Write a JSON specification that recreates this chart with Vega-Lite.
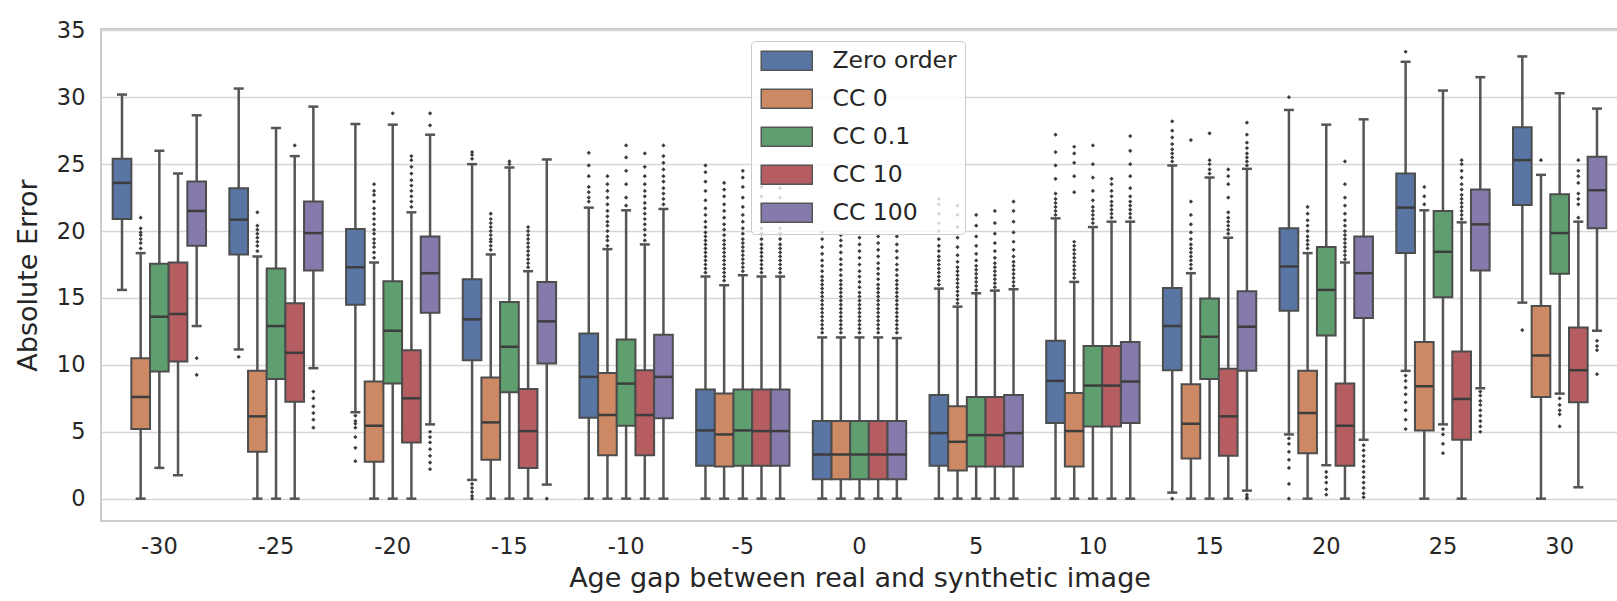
{
  "$schema": "https://vega.github.io/schema/vega-lite/v6.json",
  "autosize": {"type": "none"},
  "padding": {"left": 101, "top": 29, "right": 0, "bottom": 80},
  "width": 1517,
  "height": 492,
  "background": "#ffffff",
  "datasets": {
    "boxes": [
      {"gap": "-30", "method": "Zero order", "lo": 15.6, "q1": 20.9, "med": 23.6, "q3": 25.4, "hi": 30.2},
      {"gap": "-30", "method": "CC 0", "lo": 0, "q1": 5.2, "med": 7.6, "q3": 10.5, "hi": 18.35},
      {"gap": "-30", "method": "CC 0.1", "lo": 2.3, "q1": 9.5, "med": 13.6, "q3": 17.55, "hi": 26.0},
      {"gap": "-30", "method": "CC 10", "lo": 1.75, "q1": 10.25, "med": 13.8, "q3": 17.65, "hi": 24.3},
      {"gap": "-30", "method": "CC 100", "lo": 12.9, "q1": 18.9, "med": 21.5, "q3": 23.7, "hi": 28.65},
      {"gap": "-25", "method": "Zero order", "lo": 11.15, "q1": 18.25, "med": 20.85, "q3": 23.2, "hi": 30.65},
      {"gap": "-25", "method": "CC 0", "lo": 0, "q1": 3.5, "med": 6.15, "q3": 9.55, "hi": 18.1},
      {"gap": "-25", "method": "CC 0.1", "lo": 0, "q1": 8.95, "med": 12.9, "q3": 17.2, "hi": 27.7},
      {"gap": "-25", "method": "CC 10", "lo": 0, "q1": 7.25, "med": 10.9, "q3": 14.6, "hi": 25.6},
      {"gap": "-25", "method": "CC 100", "lo": 9.75, "q1": 17.05, "med": 19.85, "q3": 22.2, "hi": 29.3},
      {"gap": "-20", "method": "Zero order", "lo": 6.45, "q1": 14.5, "med": 17.3, "q3": 20.15, "hi": 28.0},
      {"gap": "-20", "method": "CC 0", "lo": 0, "q1": 2.75, "med": 5.45, "q3": 8.75, "hi": 17.65},
      {"gap": "-20", "method": "CC 0.1", "lo": 0, "q1": 8.6, "med": 12.55, "q3": 16.25, "hi": 27.95},
      {"gap": "-20", "method": "CC 10", "lo": 0, "q1": 4.2, "med": 7.5, "q3": 11.1, "hi": 21.4},
      {"gap": "-20", "method": "CC 100", "lo": 5.55, "q1": 13.9, "med": 16.85, "q3": 19.6, "hi": 27.2},
      {"gap": "-15", "method": "Zero order", "lo": 1.4, "q1": 10.35, "med": 13.4, "q3": 16.4, "hi": 25.0},
      {"gap": "-15", "method": "CC 0", "lo": 0, "q1": 2.9, "med": 5.7, "q3": 9.05, "hi": 18.25},
      {"gap": "-15", "method": "CC 0.1", "lo": 0, "q1": 7.95, "med": 11.35, "q3": 14.7, "hi": 24.75},
      {"gap": "-15", "method": "CC 10", "lo": 0, "q1": 2.3, "med": 5.05, "q3": 8.2, "hi": 17.0},
      {"gap": "-15", "method": "CC 100", "lo": 1.05, "q1": 10.1, "med": 13.25, "q3": 16.2, "hi": 25.35},
      {"gap": "-10", "method": "Zero order", "lo": 0, "q1": 6.05, "med": 9.1, "q3": 12.35, "hi": 21.75},
      {"gap": "-10", "method": "CC 0", "lo": 0, "q1": 3.25, "med": 6.25, "q3": 9.4, "hi": 18.65},
      {"gap": "-10", "method": "CC 0.1", "lo": 0, "q1": 5.45, "med": 8.6, "q3": 11.9, "hi": 21.55},
      {"gap": "-10", "method": "CC 10", "lo": 0, "q1": 3.25, "med": 6.25, "q3": 9.6, "hi": 19.0},
      {"gap": "-10", "method": "CC 100", "lo": 0, "q1": 6.0, "med": 9.1, "q3": 12.25, "hi": 21.65},
      {"gap": "-5", "method": "Zero order", "lo": 0, "q1": 2.45, "med": 5.1, "q3": 8.15, "hi": 16.6},
      {"gap": "-5", "method": "CC 0", "lo": 0, "q1": 2.4, "med": 4.8, "q3": 7.85, "hi": 15.95},
      {"gap": "-5", "method": "CC 0.1", "lo": 0, "q1": 2.45, "med": 5.1, "q3": 8.15, "hi": 16.7},
      {"gap": "-5", "method": "CC 10", "lo": 0, "q1": 2.45, "med": 5.05, "q3": 8.15, "hi": 16.6},
      {"gap": "-5", "method": "CC 100", "lo": 0, "q1": 2.45, "med": 5.05, "q3": 8.15, "hi": 16.6},
      {"gap": "0", "method": "Zero order", "lo": 0, "q1": 1.45, "med": 3.3, "q3": 5.8, "hi": 12.05},
      {"gap": "0", "method": "CC 0", "lo": 0, "q1": 1.45, "med": 3.3, "q3": 5.8, "hi": 12.05},
      {"gap": "0", "method": "CC 0.1", "lo": 0, "q1": 1.45, "med": 3.3, "q3": 5.8, "hi": 12.05},
      {"gap": "0", "method": "CC 10", "lo": 0, "q1": 1.45, "med": 3.3, "q3": 5.8, "hi": 12.05},
      {"gap": "0", "method": "CC 100", "lo": 0, "q1": 1.45, "med": 3.3, "q3": 5.8, "hi": 12.0},
      {"gap": "5", "method": "Zero order", "lo": 0, "q1": 2.45, "med": 4.9, "q3": 7.75, "hi": 15.7},
      {"gap": "5", "method": "CC 0", "lo": 0, "q1": 2.1, "med": 4.25, "q3": 6.9, "hi": 14.35},
      {"gap": "5", "method": "CC 0.1", "lo": 0, "q1": 2.4, "med": 4.75, "q3": 7.6, "hi": 15.35},
      {"gap": "5", "method": "CC 10", "lo": 0, "q1": 2.4, "med": 4.75, "q3": 7.6, "hi": 15.55},
      {"gap": "5", "method": "CC 100", "lo": 0, "q1": 2.4, "med": 4.9, "q3": 7.75, "hi": 15.65},
      {"gap": "10", "method": "Zero order", "lo": 0, "q1": 5.65, "med": 8.8, "q3": 11.8, "hi": 20.95},
      {"gap": "10", "method": "CC 0", "lo": 0, "q1": 2.4, "med": 5.05, "q3": 7.9, "hi": 16.2},
      {"gap": "10", "method": "CC 0.1", "lo": 0, "q1": 5.4, "med": 8.45, "q3": 11.4, "hi": 20.3},
      {"gap": "10", "method": "CC 10", "lo": 0, "q1": 5.4, "med": 8.45, "q3": 11.4, "hi": 20.7},
      {"gap": "10", "method": "CC 100", "lo": 0, "q1": 5.65, "med": 8.75, "q3": 11.7, "hi": 20.7},
      {"gap": "15", "method": "Zero order", "lo": 0.45, "q1": 9.6, "med": 12.9, "q3": 15.75, "hi": 24.9},
      {"gap": "15", "method": "CC 0", "lo": 0, "q1": 3.0, "med": 5.6, "q3": 8.55, "hi": 16.85},
      {"gap": "15", "method": "CC 0.1", "lo": 0, "q1": 8.95, "med": 12.1, "q3": 14.95, "hi": 24.0},
      {"gap": "15", "method": "CC 10", "lo": 0, "q1": 3.2, "med": 6.15, "q3": 9.7, "hi": 19.5},
      {"gap": "15", "method": "CC 100", "lo": 0.6, "q1": 9.55, "med": 12.85, "q3": 15.5, "hi": 24.65},
      {"gap": "20", "method": "Zero order", "lo": 4.8, "q1": 14.05, "med": 17.35, "q3": 20.2, "hi": 29.05},
      {"gap": "20", "method": "CC 0", "lo": 0, "q1": 3.4, "med": 6.4, "q3": 9.55, "hi": 18.35},
      {"gap": "20", "method": "CC 0.1", "lo": 2.5, "q1": 12.2, "med": 15.6, "q3": 18.8, "hi": 27.95},
      {"gap": "20", "method": "CC 10", "lo": 0, "q1": 2.45, "med": 5.45, "q3": 8.6, "hi": 17.65},
      {"gap": "20", "method": "CC 100", "lo": 4.4, "q1": 13.5, "med": 16.85, "q3": 19.6, "hi": 28.35},
      {"gap": "25", "method": "Zero order", "lo": 9.55, "q1": 18.35, "med": 21.75, "q3": 24.3, "hi": 32.65},
      {"gap": "25", "method": "CC 0", "lo": 0, "q1": 5.1, "med": 8.4, "q3": 11.7, "hi": 21.55},
      {"gap": "25", "method": "CC 0.1", "lo": 5.55, "q1": 15.05, "med": 18.45, "q3": 21.5, "hi": 30.5},
      {"gap": "25", "method": "CC 10", "lo": 0, "q1": 4.4, "med": 7.45, "q3": 11.0, "hi": 20.65},
      {"gap": "25", "method": "CC 100", "lo": 8.25, "q1": 17.05, "med": 20.5, "q3": 23.1, "hi": 31.5},
      {"gap": "30", "method": "Zero order", "lo": 14.65, "q1": 21.95, "med": 25.3, "q3": 27.75, "hi": 33.05},
      {"gap": "30", "method": "CC 0", "lo": 0, "q1": 7.6, "med": 10.7, "q3": 14.4, "hi": 24.2},
      {"gap": "30", "method": "CC 0.1", "lo": 7.85, "q1": 16.8, "med": 19.85, "q3": 22.75, "hi": 30.3},
      {"gap": "30", "method": "CC 10", "lo": 0.85, "q1": 7.2, "med": 9.6, "q3": 12.8, "hi": 20.7},
      {"gap": "30", "method": "CC 100", "lo": 12.55, "q1": 20.2, "med": 23.05, "q3": 25.55, "hi": 29.15}
    ],
    "outliers": [
      {"gap": "-30", "method": "CC 0", "error": 18.7}, {"gap": "-30", "method": "CC 0", "error": 19.1}, {"gap": "-30", "method": "CC 0", "error": 19.4}, {"gap": "-30", "method": "CC 0", "error": 19.7}, {"gap": "-30", "method": "CC 0", "error": 19.9}, {"gap": "-30", "method": "CC 0", "error": 20.2}, {"gap": "-30", "method": "CC 0", "error": 21.0},
      {"gap": "-30", "method": "CC 100", "error": 10.5}, {"gap": "-30", "method": "CC 100", "error": 9.25},
      {"gap": "-25", "method": "Zero order", "error": 10.6},
      {"gap": "-25", "method": "CC 0", "error": 18.5}, {"gap": "-25", "method": "CC 0", "error": 18.9}, {"gap": "-25", "method": "CC 0", "error": 19.2}, {"gap": "-25", "method": "CC 0", "error": 19.5}, {"gap": "-25", "method": "CC 0", "error": 19.8}, {"gap": "-25", "method": "CC 0", "error": 20.1}, {"gap": "-25", "method": "CC 0", "error": 20.4}, {"gap": "-25", "method": "CC 0", "error": 21.4},
      {"gap": "-25", "method": "CC 10", "error": 26.4},
      {"gap": "-25", "method": "CC 100", "error": 8.0}, {"gap": "-25", "method": "CC 100", "error": 7.5}, {"gap": "-25", "method": "CC 100", "error": 6.9}, {"gap": "-25", "method": "CC 100", "error": 6.4}, {"gap": "-25", "method": "CC 100", "error": 5.9}, {"gap": "-25", "method": "CC 100", "error": 5.3},
      {"gap": "-20", "method": "Zero order", "error": 6.2}, {"gap": "-20", "method": "Zero order", "error": 5.8}, {"gap": "-20", "method": "Zero order", "error": 5.6}, {"gap": "-20", "method": "Zero order", "error": 5.3}, {"gap": "-20", "method": "Zero order", "error": 4.6}, {"gap": "-20", "method": "Zero order", "error": 3.8}, {"gap": "-20", "method": "Zero order", "error": 2.8},
      {"gap": "-20", "method": "CC 0", "error": 18.0}, {"gap": "-20", "method": "CC 0", "error": 18.4}, {"gap": "-20", "method": "CC 0", "error": 18.8}, {"gap": "-20", "method": "CC 0", "error": 19.1}, {"gap": "-20", "method": "CC 0", "error": 19.4}, {"gap": "-20", "method": "CC 0", "error": 19.8}, {"gap": "-20", "method": "CC 0", "error": 20.1}, {"gap": "-20", "method": "CC 0", "error": 20.5}, {"gap": "-20", "method": "CC 0", "error": 20.9}, {"gap": "-20", "method": "CC 0", "error": 21.3}, {"gap": "-20", "method": "CC 0", "error": 21.7}, {"gap": "-20", "method": "CC 0", "error": 22.2}, {"gap": "-20", "method": "CC 0", "error": 22.7}, {"gap": "-20", "method": "CC 0", "error": 23.0}, {"gap": "-20", "method": "CC 0", "error": 23.5},
      {"gap": "-20", "method": "CC 0.1", "error": 28.8},
      {"gap": "-20", "method": "CC 10", "error": 21.8}, {"gap": "-20", "method": "CC 10", "error": 22.2}, {"gap": "-20", "method": "CC 10", "error": 22.6}, {"gap": "-20", "method": "CC 10", "error": 23.0}, {"gap": "-20", "method": "CC 10", "error": 23.4}, {"gap": "-20", "method": "CC 10", "error": 23.8}, {"gap": "-20", "method": "CC 10", "error": 24.3}, {"gap": "-20", "method": "CC 10", "error": 24.8}, {"gap": "-20", "method": "CC 10", "error": 25.3}, {"gap": "-20", "method": "CC 10", "error": 25.6},
      {"gap": "-20", "method": "CC 100", "error": 27.9}, {"gap": "-20", "method": "CC 100", "error": 28.8}, {"gap": "-20", "method": "CC 100", "error": 5.0}, {"gap": "-20", "method": "CC 100", "error": 4.6}, {"gap": "-20", "method": "CC 100", "error": 4.2}, {"gap": "-20", "method": "CC 100", "error": 3.7}, {"gap": "-20", "method": "CC 100", "error": 3.2}, {"gap": "-20", "method": "CC 100", "error": 2.7}, {"gap": "-20", "method": "CC 100", "error": 2.2},
      {"gap": "-15", "method": "Zero order", "error": 25.4}, {"gap": "-15", "method": "Zero order", "error": 25.7}, {"gap": "-15", "method": "Zero order", "error": 25.9}, {"gap": "-15", "method": "Zero order", "error": 1.1}, {"gap": "-15", "method": "Zero order", "error": 0.8}, {"gap": "-15", "method": "Zero order", "error": 0.5}, {"gap": "-15", "method": "Zero order", "error": 0.2}, {"gap": "-15", "method": "Zero order", "error": 0.0},
      {"gap": "-15", "method": "CC 0", "error": 18.6}, {"gap": "-15", "method": "CC 0", "error": 18.9}, {"gap": "-15", "method": "CC 0", "error": 19.2}, {"gap": "-15", "method": "CC 0", "error": 19.4}, {"gap": "-15", "method": "CC 0", "error": 19.7}, {"gap": "-15", "method": "CC 0", "error": 20.0}, {"gap": "-15", "method": "CC 0", "error": 20.3}, {"gap": "-15", "method": "CC 0", "error": 20.6}, {"gap": "-15", "method": "CC 0", "error": 20.9}, {"gap": "-15", "method": "CC 0", "error": 21.3},
      {"gap": "-15", "method": "CC 0.1", "error": 25.0}, {"gap": "-15", "method": "CC 0.1", "error": 25.2},
      {"gap": "-15", "method": "CC 10", "error": 17.3}, {"gap": "-15", "method": "CC 10", "error": 17.6}, {"gap": "-15", "method": "CC 10", "error": 17.9}, {"gap": "-15", "method": "CC 10", "error": 18.2}, {"gap": "-15", "method": "CC 10", "error": 18.5}, {"gap": "-15", "method": "CC 10", "error": 18.8}, {"gap": "-15", "method": "CC 10", "error": 19.1}, {"gap": "-15", "method": "CC 10", "error": 19.4}, {"gap": "-15", "method": "CC 10", "error": 19.7}, {"gap": "-15", "method": "CC 10", "error": 20.0}, {"gap": "-15", "method": "CC 10", "error": 20.3},
      {"gap": "-15", "method": "CC 100", "error": 0.0},
      {"gap": "-10", "method": "Zero order", "error": 22.2}, {"gap": "-10", "method": "Zero order", "error": 22.5}, {"gap": "-10", "method": "Zero order", "error": 22.9}, {"gap": "-10", "method": "Zero order", "error": 23.3}, {"gap": "-10", "method": "Zero order", "error": 24.1}, {"gap": "-10", "method": "Zero order", "error": 24.9}, {"gap": "-10", "method": "Zero order", "error": 25.85},
      {"gap": "-10", "method": "CC 0", "error": 18.9}, {"gap": "-10", "method": "CC 0", "error": 19.3}, {"gap": "-10", "method": "CC 0", "error": 19.6}, {"gap": "-10", "method": "CC 0", "error": 20.0}, {"gap": "-10", "method": "CC 0", "error": 20.4}, {"gap": "-10", "method": "CC 0", "error": 20.7}, {"gap": "-10", "method": "CC 0", "error": 21.1}, {"gap": "-10", "method": "CC 0", "error": 21.5}, {"gap": "-10", "method": "CC 0", "error": 22.0}, {"gap": "-10", "method": "CC 0", "error": 22.5}, {"gap": "-10", "method": "CC 0", "error": 23.0}, {"gap": "-10", "method": "CC 0", "error": 23.5}, {"gap": "-10", "method": "CC 0", "error": 24.1},
      {"gap": "-10", "method": "CC 0.1", "error": 21.9}, {"gap": "-10", "method": "CC 0.1", "error": 22.5}, {"gap": "-10", "method": "CC 0.1", "error": 23.5}, {"gap": "-10", "method": "CC 0.1", "error": 24.5}, {"gap": "-10", "method": "CC 0.1", "error": 25.5}, {"gap": "-10", "method": "CC 0.1", "error": 26.4},
      {"gap": "-10", "method": "CC 10", "error": 19.3}, {"gap": "-10", "method": "CC 10", "error": 19.7}, {"gap": "-10", "method": "CC 10", "error": 20.1}, {"gap": "-10", "method": "CC 10", "error": 20.5}, {"gap": "-10", "method": "CC 10", "error": 20.9}, {"gap": "-10", "method": "CC 10", "error": 21.3}, {"gap": "-10", "method": "CC 10", "error": 21.7}, {"gap": "-10", "method": "CC 10", "error": 22.1}, {"gap": "-10", "method": "CC 10", "error": 22.6}, {"gap": "-10", "method": "CC 10", "error": 23.0}, {"gap": "-10", "method": "CC 10", "error": 23.5}, {"gap": "-10", "method": "CC 10", "error": 24.1}, {"gap": "-10", "method": "CC 10", "error": 24.8}, {"gap": "-10", "method": "CC 10", "error": 25.8},
      {"gap": "-10", "method": "CC 100", "error": 22.0}, {"gap": "-10", "method": "CC 100", "error": 22.4}, {"gap": "-10", "method": "CC 100", "error": 22.8}, {"gap": "-10", "method": "CC 100", "error": 23.2}, {"gap": "-10", "method": "CC 100", "error": 23.7}, {"gap": "-10", "method": "CC 100", "error": 24.1}, {"gap": "-10", "method": "CC 100", "error": 24.6}, {"gap": "-10", "method": "CC 100", "error": 25.1}, {"gap": "-10", "method": "CC 100", "error": 25.6}, {"gap": "-10", "method": "CC 100", "error": 26.4},
      {"gap": "-5", "method": "Zero order", "error": 16.9}, {"gap": "-5", "method": "Zero order", "error": 17.2}, {"gap": "-5", "method": "Zero order", "error": 17.5}, {"gap": "-5", "method": "Zero order", "error": 17.8}, {"gap": "-5", "method": "Zero order", "error": 18.1}, {"gap": "-5", "method": "Zero order", "error": 18.4}, {"gap": "-5", "method": "Zero order", "error": 18.7}, {"gap": "-5", "method": "Zero order", "error": 19.0}, {"gap": "-5", "method": "Zero order", "error": 19.3}, {"gap": "-5", "method": "Zero order", "error": 19.6}, {"gap": "-5", "method": "Zero order", "error": 19.9}, {"gap": "-5", "method": "Zero order", "error": 20.3}, {"gap": "-5", "method": "Zero order", "error": 20.7}, {"gap": "-5", "method": "Zero order", "error": 21.2}, {"gap": "-5", "method": "Zero order", "error": 21.7}, {"gap": "-5", "method": "Zero order", "error": 22.3}, {"gap": "-5", "method": "Zero order", "error": 23.0}, {"gap": "-5", "method": "Zero order", "error": 23.7}, {"gap": "-5", "method": "Zero order", "error": 24.4}, {"gap": "-5", "method": "Zero order", "error": 24.9},
      {"gap": "-5", "method": "CC 0", "error": 16.3}, {"gap": "-5", "method": "CC 0", "error": 16.6}, {"gap": "-5", "method": "CC 0", "error": 16.9}, {"gap": "-5", "method": "CC 0", "error": 17.2}, {"gap": "-5", "method": "CC 0", "error": 17.5}, {"gap": "-5", "method": "CC 0", "error": 17.8}, {"gap": "-5", "method": "CC 0", "error": 18.1}, {"gap": "-5", "method": "CC 0", "error": 18.4}, {"gap": "-5", "method": "CC 0", "error": 18.7}, {"gap": "-5", "method": "CC 0", "error": 19.0}, {"gap": "-5", "method": "CC 0", "error": 19.3}, {"gap": "-5", "method": "CC 0", "error": 19.7}, {"gap": "-5", "method": "CC 0", "error": 20.1}, {"gap": "-5", "method": "CC 0", "error": 20.5}, {"gap": "-5", "method": "CC 0", "error": 21.0}, {"gap": "-5", "method": "CC 0", "error": 21.5}, {"gap": "-5", "method": "CC 0", "error": 22.0}, {"gap": "-5", "method": "CC 0", "error": 22.6}, {"gap": "-5", "method": "CC 0", "error": 23.1}, {"gap": "-5", "method": "CC 0", "error": 23.6},
      {"gap": "-5", "method": "CC 0.1", "error": 17.0}, {"gap": "-5", "method": "CC 0.1", "error": 17.3}, {"gap": "-5", "method": "CC 0.1", "error": 17.6}, {"gap": "-5", "method": "CC 0.1", "error": 17.9}, {"gap": "-5", "method": "CC 0.1", "error": 18.2}, {"gap": "-5", "method": "CC 0.1", "error": 18.5}, {"gap": "-5", "method": "CC 0.1", "error": 18.8}, {"gap": "-5", "method": "CC 0.1", "error": 19.1}, {"gap": "-5", "method": "CC 0.1", "error": 19.4}, {"gap": "-5", "method": "CC 0.1", "error": 19.8}, {"gap": "-5", "method": "CC 0.1", "error": 20.2}, {"gap": "-5", "method": "CC 0.1", "error": 20.7}, {"gap": "-5", "method": "CC 0.1", "error": 21.2}, {"gap": "-5", "method": "CC 0.1", "error": 21.8}, {"gap": "-5", "method": "CC 0.1", "error": 22.5}, {"gap": "-5", "method": "CC 0.1", "error": 23.3}, {"gap": "-5", "method": "CC 0.1", "error": 24.0}, {"gap": "-5", "method": "CC 0.1", "error": 24.5},
      {"gap": "-5", "method": "CC 10", "error": 16.9}, {"gap": "-5", "method": "CC 10", "error": 17.2}, {"gap": "-5", "method": "CC 10", "error": 17.5}, {"gap": "-5", "method": "CC 10", "error": 17.8}, {"gap": "-5", "method": "CC 10", "error": 18.1}, {"gap": "-5", "method": "CC 10", "error": 18.4}, {"gap": "-5", "method": "CC 10", "error": 18.7}, {"gap": "-5", "method": "CC 10", "error": 19.0}, {"gap": "-5", "method": "CC 10", "error": 19.4}, {"gap": "-5", "method": "CC 10", "error": 19.8}, {"gap": "-5", "method": "CC 10", "error": 20.2}, {"gap": "-5", "method": "CC 10", "error": 20.7}, {"gap": "-5", "method": "CC 10", "error": 21.3}, {"gap": "-5", "method": "CC 10", "error": 21.9}, {"gap": "-5", "method": "CC 10", "error": 22.6}, {"gap": "-5", "method": "CC 10", "error": 23.3}, {"gap": "-5", "method": "CC 10", "error": 24.0},
      {"gap": "-5", "method": "CC 100", "error": 16.9}, {"gap": "-5", "method": "CC 100", "error": 17.2}, {"gap": "-5", "method": "CC 100", "error": 17.5}, {"gap": "-5", "method": "CC 100", "error": 17.8}, {"gap": "-5", "method": "CC 100", "error": 18.1}, {"gap": "-5", "method": "CC 100", "error": 18.4}, {"gap": "-5", "method": "CC 100", "error": 18.7}, {"gap": "-5", "method": "CC 100", "error": 19.0}, {"gap": "-5", "method": "CC 100", "error": 19.4}, {"gap": "-5", "method": "CC 100", "error": 19.8}, {"gap": "-5", "method": "CC 100", "error": 20.2}, {"gap": "-5", "method": "CC 100", "error": 20.7}, {"gap": "-5", "method": "CC 100", "error": 21.2}, {"gap": "-5", "method": "CC 100", "error": 21.8}, {"gap": "-5", "method": "CC 100", "error": 22.5}, {"gap": "-5", "method": "CC 100", "error": 23.2}, {"gap": "-5", "method": "CC 100", "error": 23.8},
      {"gap": "0", "method": "Zero order", "error": 12.4}, {"gap": "0", "method": "Zero order", "error": 12.7}, {"gap": "0", "method": "Zero order", "error": 13.0}, {"gap": "0", "method": "Zero order", "error": 13.3}, {"gap": "0", "method": "Zero order", "error": 13.6}, {"gap": "0", "method": "Zero order", "error": 13.9}, {"gap": "0", "method": "Zero order", "error": 14.2}, {"gap": "0", "method": "Zero order", "error": 14.5}, {"gap": "0", "method": "Zero order", "error": 14.8}, {"gap": "0", "method": "Zero order", "error": 15.1}, {"gap": "0", "method": "Zero order", "error": 15.4}, {"gap": "0", "method": "Zero order", "error": 15.7}, {"gap": "0", "method": "Zero order", "error": 16.0}, {"gap": "0", "method": "Zero order", "error": 16.3}, {"gap": "0", "method": "Zero order", "error": 16.6}, {"gap": "0", "method": "Zero order", "error": 17.0}, {"gap": "0", "method": "Zero order", "error": 17.4}, {"gap": "0", "method": "Zero order", "error": 17.8}, {"gap": "0", "method": "Zero order", "error": 18.3}, {"gap": "0", "method": "Zero order", "error": 18.8}, {"gap": "0", "method": "Zero order", "error": 19.4}, {"gap": "0", "method": "Zero order", "error": 19.9},
      {"gap": "0", "method": "CC 0", "error": 12.4}, {"gap": "0", "method": "CC 0", "error": 12.7}, {"gap": "0", "method": "CC 0", "error": 13.0}, {"gap": "0", "method": "CC 0", "error": 13.3}, {"gap": "0", "method": "CC 0", "error": 13.6}, {"gap": "0", "method": "CC 0", "error": 13.9}, {"gap": "0", "method": "CC 0", "error": 14.2}, {"gap": "0", "method": "CC 0", "error": 14.5}, {"gap": "0", "method": "CC 0", "error": 14.8}, {"gap": "0", "method": "CC 0", "error": 15.1}, {"gap": "0", "method": "CC 0", "error": 15.4}, {"gap": "0", "method": "CC 0", "error": 15.7}, {"gap": "0", "method": "CC 0", "error": 16.0}, {"gap": "0", "method": "CC 0", "error": 16.3}, {"gap": "0", "method": "CC 0", "error": 16.7}, {"gap": "0", "method": "CC 0", "error": 17.1}, {"gap": "0", "method": "CC 0", "error": 17.5}, {"gap": "0", "method": "CC 0", "error": 17.9}, {"gap": "0", "method": "CC 0", "error": 18.4}, {"gap": "0", "method": "CC 0", "error": 18.9}, {"gap": "0", "method": "CC 0", "error": 19.3}, {"gap": "0", "method": "CC 0", "error": 19.7},
      {"gap": "0", "method": "CC 0.1", "error": 12.4}, {"gap": "0", "method": "CC 0.1", "error": 12.7}, {"gap": "0", "method": "CC 0.1", "error": 13.0}, {"gap": "0", "method": "CC 0.1", "error": 13.3}, {"gap": "0", "method": "CC 0.1", "error": 13.6}, {"gap": "0", "method": "CC 0.1", "error": 13.9}, {"gap": "0", "method": "CC 0.1", "error": 14.2}, {"gap": "0", "method": "CC 0.1", "error": 14.5}, {"gap": "0", "method": "CC 0.1", "error": 14.8}, {"gap": "0", "method": "CC 0.1", "error": 15.1}, {"gap": "0", "method": "CC 0.1", "error": 15.4}, {"gap": "0", "method": "CC 0.1", "error": 15.8}, {"gap": "0", "method": "CC 0.1", "error": 16.2}, {"gap": "0", "method": "CC 0.1", "error": 16.6}, {"gap": "0", "method": "CC 0.1", "error": 17.0}, {"gap": "0", "method": "CC 0.1", "error": 17.5}, {"gap": "0", "method": "CC 0.1", "error": 18.0}, {"gap": "0", "method": "CC 0.1", "error": 18.5}, {"gap": "0", "method": "CC 0.1", "error": 19.0}, {"gap": "0", "method": "CC 0.1", "error": 19.5},
      {"gap": "0", "method": "CC 10", "error": 12.4}, {"gap": "0", "method": "CC 10", "error": 12.7}, {"gap": "0", "method": "CC 10", "error": 13.0}, {"gap": "0", "method": "CC 10", "error": 13.3}, {"gap": "0", "method": "CC 10", "error": 13.6}, {"gap": "0", "method": "CC 10", "error": 13.9}, {"gap": "0", "method": "CC 10", "error": 14.2}, {"gap": "0", "method": "CC 10", "error": 14.5}, {"gap": "0", "method": "CC 10", "error": 14.8}, {"gap": "0", "method": "CC 10", "error": 15.1}, {"gap": "0", "method": "CC 10", "error": 15.4}, {"gap": "0", "method": "CC 10", "error": 15.7}, {"gap": "0", "method": "CC 10", "error": 16.0}, {"gap": "0", "method": "CC 10", "error": 16.4}, {"gap": "0", "method": "CC 10", "error": 16.8}, {"gap": "0", "method": "CC 10", "error": 17.2}, {"gap": "0", "method": "CC 10", "error": 17.6}, {"gap": "0", "method": "CC 10", "error": 18.1}, {"gap": "0", "method": "CC 10", "error": 18.6}, {"gap": "0", "method": "CC 10", "error": 19.1}, {"gap": "0", "method": "CC 10", "error": 19.6},
      {"gap": "0", "method": "CC 100", "error": 12.4}, {"gap": "0", "method": "CC 100", "error": 12.7}, {"gap": "0", "method": "CC 100", "error": 13.0}, {"gap": "0", "method": "CC 100", "error": 13.3}, {"gap": "0", "method": "CC 100", "error": 13.6}, {"gap": "0", "method": "CC 100", "error": 13.9}, {"gap": "0", "method": "CC 100", "error": 14.2}, {"gap": "0", "method": "CC 100", "error": 14.5}, {"gap": "0", "method": "CC 100", "error": 14.8}, {"gap": "0", "method": "CC 100", "error": 15.1}, {"gap": "0", "method": "CC 100", "error": 15.4}, {"gap": "0", "method": "CC 100", "error": 15.7}, {"gap": "0", "method": "CC 100", "error": 16.0}, {"gap": "0", "method": "CC 100", "error": 16.3}, {"gap": "0", "method": "CC 100", "error": 16.7}, {"gap": "0", "method": "CC 100", "error": 17.1}, {"gap": "0", "method": "CC 100", "error": 17.5}, {"gap": "0", "method": "CC 100", "error": 18.0}, {"gap": "0", "method": "CC 100", "error": 18.5}, {"gap": "0", "method": "CC 100", "error": 19.0}, {"gap": "0", "method": "CC 100", "error": 19.6},
      {"gap": "5", "method": "Zero order", "error": 16.0}, {"gap": "5", "method": "Zero order", "error": 16.3}, {"gap": "5", "method": "Zero order", "error": 16.6}, {"gap": "5", "method": "Zero order", "error": 16.9}, {"gap": "5", "method": "Zero order", "error": 17.2}, {"gap": "5", "method": "Zero order", "error": 17.5}, {"gap": "5", "method": "Zero order", "error": 17.8}, {"gap": "5", "method": "Zero order", "error": 18.1}, {"gap": "5", "method": "Zero order", "error": 18.5}, {"gap": "5", "method": "Zero order", "error": 18.9}, {"gap": "5", "method": "Zero order", "error": 19.4}, {"gap": "5", "method": "Zero order", "error": 20.0}, {"gap": "5", "method": "Zero order", "error": 20.6}, {"gap": "5", "method": "Zero order", "error": 21.3}, {"gap": "5", "method": "Zero order", "error": 22.0}, {"gap": "5", "method": "Zero order", "error": 22.4},
      {"gap": "5", "method": "CC 0", "error": 14.6}, {"gap": "5", "method": "CC 0", "error": 14.9}, {"gap": "5", "method": "CC 0", "error": 15.2}, {"gap": "5", "method": "CC 0", "error": 15.5}, {"gap": "5", "method": "CC 0", "error": 15.8}, {"gap": "5", "method": "CC 0", "error": 16.1}, {"gap": "5", "method": "CC 0", "error": 16.4}, {"gap": "5", "method": "CC 0", "error": 16.7}, {"gap": "5", "method": "CC 0", "error": 17.0}, {"gap": "5", "method": "CC 0", "error": 17.3}, {"gap": "5", "method": "CC 0", "error": 17.7}, {"gap": "5", "method": "CC 0", "error": 18.2}, {"gap": "5", "method": "CC 0", "error": 18.8}, {"gap": "5", "method": "CC 0", "error": 19.5}, {"gap": "5", "method": "CC 0", "error": 20.3}, {"gap": "5", "method": "CC 0", "error": 21.2}, {"gap": "5", "method": "CC 0", "error": 21.9},
      {"gap": "5", "method": "CC 0.1", "error": 15.6}, {"gap": "5", "method": "CC 0.1", "error": 15.9}, {"gap": "5", "method": "CC 0.1", "error": 16.2}, {"gap": "5", "method": "CC 0.1", "error": 16.5}, {"gap": "5", "method": "CC 0.1", "error": 16.8}, {"gap": "5", "method": "CC 0.1", "error": 17.1}, {"gap": "5", "method": "CC 0.1", "error": 17.4}, {"gap": "5", "method": "CC 0.1", "error": 17.8}, {"gap": "5", "method": "CC 0.1", "error": 18.3}, {"gap": "5", "method": "CC 0.1", "error": 18.9}, {"gap": "5", "method": "CC 0.1", "error": 19.6}, {"gap": "5", "method": "CC 0.1", "error": 20.4}, {"gap": "5", "method": "CC 0.1", "error": 21.2},
      {"gap": "5", "method": "CC 10", "error": 15.8}, {"gap": "5", "method": "CC 10", "error": 16.1}, {"gap": "5", "method": "CC 10", "error": 16.4}, {"gap": "5", "method": "CC 10", "error": 16.7}, {"gap": "5", "method": "CC 10", "error": 17.0}, {"gap": "5", "method": "CC 10", "error": 17.3}, {"gap": "5", "method": "CC 10", "error": 17.6}, {"gap": "5", "method": "CC 10", "error": 18.0}, {"gap": "5", "method": "CC 10", "error": 18.5}, {"gap": "5", "method": "CC 10", "error": 19.1}, {"gap": "5", "method": "CC 10", "error": 19.8}, {"gap": "5", "method": "CC 10", "error": 20.6}, {"gap": "5", "method": "CC 10", "error": 21.5},
      {"gap": "5", "method": "CC 100", "error": 15.9}, {"gap": "5", "method": "CC 100", "error": 16.2}, {"gap": "5", "method": "CC 100", "error": 16.5}, {"gap": "5", "method": "CC 100", "error": 16.8}, {"gap": "5", "method": "CC 100", "error": 17.1}, {"gap": "5", "method": "CC 100", "error": 17.4}, {"gap": "5", "method": "CC 100", "error": 17.7}, {"gap": "5", "method": "CC 100", "error": 18.1}, {"gap": "5", "method": "CC 100", "error": 18.6}, {"gap": "5", "method": "CC 100", "error": 19.2}, {"gap": "5", "method": "CC 100", "error": 19.9}, {"gap": "5", "method": "CC 100", "error": 20.7}, {"gap": "5", "method": "CC 100", "error": 21.5}, {"gap": "5", "method": "CC 100", "error": 22.2},
      {"gap": "10", "method": "Zero order", "error": 21.2}, {"gap": "10", "method": "Zero order", "error": 21.5}, {"gap": "10", "method": "Zero order", "error": 21.8}, {"gap": "10", "method": "Zero order", "error": 22.1}, {"gap": "10", "method": "Zero order", "error": 22.4}, {"gap": "10", "method": "Zero order", "error": 22.8}, {"gap": "10", "method": "Zero order", "error": 23.9}, {"gap": "10", "method": "Zero order", "error": 24.9}, {"gap": "10", "method": "Zero order", "error": 25.9}, {"gap": "10", "method": "Zero order", "error": 27.2},
      {"gap": "10", "method": "CC 0", "error": 16.5}, {"gap": "10", "method": "CC 0", "error": 16.8}, {"gap": "10", "method": "CC 0", "error": 17.1}, {"gap": "10", "method": "CC 0", "error": 17.4}, {"gap": "10", "method": "CC 0", "error": 17.7}, {"gap": "10", "method": "CC 0", "error": 18.0}, {"gap": "10", "method": "CC 0", "error": 18.3}, {"gap": "10", "method": "CC 0", "error": 18.6}, {"gap": "10", "method": "CC 0", "error": 18.9}, {"gap": "10", "method": "CC 0", "error": 19.2}, {"gap": "10", "method": "CC 0", "error": 22.9}, {"gap": "10", "method": "CC 0", "error": 24.1}, {"gap": "10", "method": "CC 0", "error": 25.1}, {"gap": "10", "method": "CC 0", "error": 25.8}, {"gap": "10", "method": "CC 0", "error": 26.3},
      {"gap": "10", "method": "CC 0.1", "error": 20.6}, {"gap": "10", "method": "CC 0.1", "error": 20.9}, {"gap": "10", "method": "CC 0.1", "error": 21.2}, {"gap": "10", "method": "CC 0.1", "error": 21.5}, {"gap": "10", "method": "CC 0.1", "error": 21.8}, {"gap": "10", "method": "CC 0.1", "error": 22.3}, {"gap": "10", "method": "CC 0.1", "error": 23.0}, {"gap": "10", "method": "CC 0.1", "error": 24.0}, {"gap": "10", "method": "CC 0.1", "error": 25.0}, {"gap": "10", "method": "CC 0.1", "error": 26.4},
      {"gap": "10", "method": "CC 10", "error": 21.0}, {"gap": "10", "method": "CC 10", "error": 21.3}, {"gap": "10", "method": "CC 10", "error": 21.6}, {"gap": "10", "method": "CC 10", "error": 21.9}, {"gap": "10", "method": "CC 10", "error": 22.2}, {"gap": "10", "method": "CC 10", "error": 22.6}, {"gap": "10", "method": "CC 10", "error": 23.0}, {"gap": "10", "method": "CC 10", "error": 23.5}, {"gap": "10", "method": "CC 10", "error": 23.9},
      {"gap": "10", "method": "CC 100", "error": 21.0}, {"gap": "10", "method": "CC 100", "error": 21.3}, {"gap": "10", "method": "CC 100", "error": 21.6}, {"gap": "10", "method": "CC 100", "error": 21.9}, {"gap": "10", "method": "CC 100", "error": 22.2}, {"gap": "10", "method": "CC 100", "error": 22.6}, {"gap": "10", "method": "CC 100", "error": 23.2}, {"gap": "10", "method": "CC 100", "error": 24.1}, {"gap": "10", "method": "CC 100", "error": 25.0}, {"gap": "10", "method": "CC 100", "error": 26.0}, {"gap": "10", "method": "CC 100", "error": 27.1},
      {"gap": "15", "method": "Zero order", "error": 25.2}, {"gap": "15", "method": "Zero order", "error": 25.5}, {"gap": "15", "method": "Zero order", "error": 25.8}, {"gap": "15", "method": "Zero order", "error": 26.1}, {"gap": "15", "method": "Zero order", "error": 26.5}, {"gap": "15", "method": "Zero order", "error": 27.0}, {"gap": "15", "method": "Zero order", "error": 27.5}, {"gap": "15", "method": "Zero order", "error": 28.2}, {"gap": "15", "method": "Zero order", "error": 0.0},
      {"gap": "15", "method": "CC 0", "error": 17.2}, {"gap": "15", "method": "CC 0", "error": 17.5}, {"gap": "15", "method": "CC 0", "error": 17.8}, {"gap": "15", "method": "CC 0", "error": 18.1}, {"gap": "15", "method": "CC 0", "error": 18.4}, {"gap": "15", "method": "CC 0", "error": 18.7}, {"gap": "15", "method": "CC 0", "error": 19.0}, {"gap": "15", "method": "CC 0", "error": 19.4}, {"gap": "15", "method": "CC 0", "error": 19.9}, {"gap": "15", "method": "CC 0", "error": 20.5}, {"gap": "15", "method": "CC 0", "error": 21.2}, {"gap": "15", "method": "CC 0", "error": 22.2}, {"gap": "15", "method": "CC 0", "error": 26.8},
      {"gap": "15", "method": "CC 0.1", "error": 24.3}, {"gap": "15", "method": "CC 0.1", "error": 24.6}, {"gap": "15", "method": "CC 0.1", "error": 25.0}, {"gap": "15", "method": "CC 0.1", "error": 25.3}, {"gap": "15", "method": "CC 0.1", "error": 27.3},
      {"gap": "15", "method": "CC 10", "error": 19.8}, {"gap": "15", "method": "CC 10", "error": 20.1}, {"gap": "15", "method": "CC 10", "error": 20.4}, {"gap": "15", "method": "CC 10", "error": 20.7}, {"gap": "15", "method": "CC 10", "error": 21.0}, {"gap": "15", "method": "CC 10", "error": 21.4}, {"gap": "15", "method": "CC 10", "error": 22.5}, {"gap": "15", "method": "CC 10", "error": 23.5}, {"gap": "15", "method": "CC 10", "error": 24.1}, {"gap": "15", "method": "CC 10", "error": 24.6},
      {"gap": "15", "method": "CC 100", "error": 24.9}, {"gap": "15", "method": "CC 100", "error": 25.2}, {"gap": "15", "method": "CC 100", "error": 25.5}, {"gap": "15", "method": "CC 100", "error": 25.8}, {"gap": "15", "method": "CC 100", "error": 26.2}, {"gap": "15", "method": "CC 100", "error": 26.6}, {"gap": "15", "method": "CC 100", "error": 27.2}, {"gap": "15", "method": "CC 100", "error": 28.1}, {"gap": "15", "method": "CC 100", "error": 0.3}, {"gap": "15", "method": "CC 100", "error": 0.1}, {"gap": "15", "method": "CC 100", "error": 0.0},
      {"gap": "20", "method": "Zero order", "error": 30.0}, {"gap": "20", "method": "Zero order", "error": 4.5}, {"gap": "20", "method": "Zero order", "error": 4.1}, {"gap": "20", "method": "Zero order", "error": 3.5}, {"gap": "20", "method": "Zero order", "error": 2.9}, {"gap": "20", "method": "Zero order", "error": 2.3}, {"gap": "20", "method": "Zero order", "error": 1.1}, {"gap": "20", "method": "Zero order", "error": 0.0},
      {"gap": "20", "method": "CC 0", "error": 18.7}, {"gap": "20", "method": "CC 0", "error": 19.0}, {"gap": "20", "method": "CC 0", "error": 19.3}, {"gap": "20", "method": "CC 0", "error": 19.6}, {"gap": "20", "method": "CC 0", "error": 20.0}, {"gap": "20", "method": "CC 0", "error": 20.4}, {"gap": "20", "method": "CC 0", "error": 20.8}, {"gap": "20", "method": "CC 0", "error": 21.3}, {"gap": "20", "method": "CC 0", "error": 21.8},
      {"gap": "20", "method": "CC 0.1", "error": 2.0}, {"gap": "20", "method": "CC 0.1", "error": 1.6}, {"gap": "20", "method": "CC 0.1", "error": 1.2}, {"gap": "20", "method": "CC 0.1", "error": 0.7}, {"gap": "20", "method": "CC 0.1", "error": 0.3},
      {"gap": "20", "method": "CC 10", "error": 17.9}, {"gap": "20", "method": "CC 10", "error": 18.2}, {"gap": "20", "method": "CC 10", "error": 18.5}, {"gap": "20", "method": "CC 10", "error": 18.8}, {"gap": "20", "method": "CC 10", "error": 19.1}, {"gap": "20", "method": "CC 10", "error": 19.4}, {"gap": "20", "method": "CC 10", "error": 19.7}, {"gap": "20", "method": "CC 10", "error": 20.0}, {"gap": "20", "method": "CC 10", "error": 20.4}, {"gap": "20", "method": "CC 10", "error": 20.8}, {"gap": "20", "method": "CC 10", "error": 21.3}, {"gap": "20", "method": "CC 10", "error": 21.9}, {"gap": "20", "method": "CC 10", "error": 22.5}, {"gap": "20", "method": "CC 10", "error": 23.5}, {"gap": "20", "method": "CC 10", "error": 25.2},
      {"gap": "20", "method": "CC 100", "error": 4.0}, {"gap": "20", "method": "CC 100", "error": 3.6}, {"gap": "20", "method": "CC 100", "error": 3.2}, {"gap": "20", "method": "CC 100", "error": 2.8}, {"gap": "20", "method": "CC 100", "error": 2.4}, {"gap": "20", "method": "CC 100", "error": 2.0}, {"gap": "20", "method": "CC 100", "error": 1.6}, {"gap": "20", "method": "CC 100", "error": 1.2}, {"gap": "20", "method": "CC 100", "error": 0.8}, {"gap": "20", "method": "CC 100", "error": 0.4}, {"gap": "20", "method": "CC 100", "error": 0.1},
      {"gap": "25", "method": "Zero order", "error": 33.4}, {"gap": "25", "method": "Zero order", "error": 9.2}, {"gap": "25", "method": "Zero order", "error": 8.8}, {"gap": "25", "method": "Zero order", "error": 8.3}, {"gap": "25", "method": "Zero order", "error": 7.8}, {"gap": "25", "method": "Zero order", "error": 7.2}, {"gap": "25", "method": "Zero order", "error": 6.6}, {"gap": "25", "method": "Zero order", "error": 5.9}, {"gap": "25", "method": "Zero order", "error": 5.2},
      {"gap": "25", "method": "CC 0", "error": 22.0}, {"gap": "25", "method": "CC 0", "error": 22.6}, {"gap": "25", "method": "CC 0", "error": 23.3},
      {"gap": "25", "method": "CC 0.1", "error": 5.2}, {"gap": "25", "method": "CC 0.1", "error": 4.8}, {"gap": "25", "method": "CC 0.1", "error": 4.1}, {"gap": "25", "method": "CC 0.1", "error": 3.4},
      {"gap": "25", "method": "CC 10", "error": 20.9}, {"gap": "25", "method": "CC 10", "error": 21.2}, {"gap": "25", "method": "CC 10", "error": 21.5}, {"gap": "25", "method": "CC 10", "error": 21.8}, {"gap": "25", "method": "CC 10", "error": 22.1}, {"gap": "25", "method": "CC 10", "error": 22.4}, {"gap": "25", "method": "CC 10", "error": 22.7}, {"gap": "25", "method": "CC 10", "error": 23.1}, {"gap": "25", "method": "CC 10", "error": 23.5}, {"gap": "25", "method": "CC 10", "error": 24.0}, {"gap": "25", "method": "CC 10", "error": 24.5}, {"gap": "25", "method": "CC 10", "error": 25.0}, {"gap": "25", "method": "CC 10", "error": 25.3},
      {"gap": "25", "method": "CC 100", "error": 8.0}, {"gap": "25", "method": "CC 100", "error": 7.7}, {"gap": "25", "method": "CC 100", "error": 7.3}, {"gap": "25", "method": "CC 100", "error": 7.0}, {"gap": "25", "method": "CC 100", "error": 6.6}, {"gap": "25", "method": "CC 100", "error": 6.2}, {"gap": "25", "method": "CC 100", "error": 5.8}, {"gap": "25", "method": "CC 100", "error": 5.4}, {"gap": "25", "method": "CC 100", "error": 5.0},
      {"gap": "30", "method": "Zero order", "error": 12.6},
      {"gap": "30", "method": "CC 0", "error": 25.3},
      {"gap": "30", "method": "CC 0.1", "error": 7.5}, {"gap": "30", "method": "CC 0.1", "error": 7.0}, {"gap": "30", "method": "CC 0.1", "error": 6.6}, {"gap": "30", "method": "CC 0.1", "error": 6.3}, {"gap": "30", "method": "CC 0.1", "error": 5.4},
      {"gap": "30", "method": "CC 10", "error": 25.3}, {"gap": "30", "method": "CC 10", "error": 24.5}, {"gap": "30", "method": "CC 10", "error": 24.1}, {"gap": "30", "method": "CC 10", "error": 23.6}, {"gap": "30", "method": "CC 10", "error": 22.8}, {"gap": "30", "method": "CC 10", "error": 22.4}, {"gap": "30", "method": "CC 10", "error": 22.0}, {"gap": "30", "method": "CC 10", "error": 21.0},
      {"gap": "30", "method": "CC 100", "error": 11.8}, {"gap": "30", "method": "CC 100", "error": 11.4}, {"gap": "30", "method": "CC 100", "error": 11.1}, {"gap": "30", "method": "CC 100", "error": 9.3}
    ]
  },
  "encoding": {
    "x": {
      "field": "gap", "type": "ordinal",
      "sort": ["-30", "-25", "-20", "-15", "-10", "-5", "0", "5", "10", "15", "20", "25", "30"],
      "scale": {"paddingInner": 0.2, "paddingOuter": 0.1},
      "title": "Age gap between real and synthetic image"
    },
    "xOffset": {
      "field": "method", "type": "nominal",
      "sort": ["Zero order", "CC 0", "CC 0.1", "CC 10", "CC 100"],
      "scale": {"paddingInner": 0, "paddingOuter": 0}
    }
  },
  "layer": [
    {
      "data": {"name": "boxes"},
      "mark": {"type": "rule", "color": "#555555", "strokeWidth": 2.5},
      "encoding": {
        "y": {"field": "lo", "type": "quantitative", "scale": {"domain": [-1.67, 35.1], "nice": false, "zero": false}, "title": "Absolute Error", "axis": {"values": [0, 5, 10, 15, 20, 25, 30, 35]}},
        "y2": {"field": "q1"}
      }
    },
    {
      "data": {"name": "boxes"},
      "mark": {"type": "rule", "color": "#555555", "strokeWidth": 2.5},
      "encoding": {
        "y": {"field": "q3", "type": "quantitative"},
        "y2": {"field": "hi"}
      }
    },
    {
      "data": {"name": "boxes"},
      "mark": {"type": "tick", "color": "#555555", "size": 10, "thickness": 2.5, "opacity": 1},
      "encoding": {"y": {"field": "lo", "type": "quantitative"}}
    },
    {
      "data": {"name": "boxes"},
      "mark": {"type": "tick", "color": "#555555", "size": 10, "thickness": 2.5, "opacity": 1},
      "encoding": {"y": {"field": "hi", "type": "quantitative"}}
    },
    {
      "data": {"name": "boxes"},
      "mark": {"type": "bar", "stroke": "#4d4d4d", "strokeWidth": 2, "opacity": 1},
      "encoding": {
        "y": {"field": "q1", "type": "quantitative"},
        "y2": {"field": "q3"},
        "fill": {
          "field": "method", "type": "nominal",
          "sort": ["Zero order", "CC 0", "CC 0.1", "CC 10", "CC 100"],
          "scale": {"domain": ["Zero order", "CC 0", "CC 0.1", "CC 10", "CC 100"], "range": ["#5875a4", "#cc8963", "#5f9e6e", "#b55d60", "#857aab"]},
          "legend": {"title": null}
        }
      }
    },
    {
      "data": {"name": "boxes"},
      "mark": {"type": "tick", "color": "#3d3d3d", "size": 18.5, "thickness": 2.5, "opacity": 1},
      "encoding": {"y": {"field": "med", "type": "quantitative"}}
    },
    {
      "data": {"name": "outliers"},
      "mark": {"type": "point", "shape": "diamond", "filled": true, "size": 18, "color": "#3d3d3d", "opacity": 1},
      "encoding": {"y": {"field": "error", "type": "quantitative"}}
    }
  ],
  "config": {
    "font": "DejaVu Sans",
    "view": {"stroke": "#cccccc", "strokeWidth": 2},
    "axisY": {"grid": true, "gridColor": "#d6d6d6", "gridWidth": 1.3, "domain": false, "ticks": false, "labelFontSize": 22.5, "labelColor": "#262626", "labelPadding": 16, "titleFontSize": 27, "titleFontWeight": "normal", "titleColor": "#262626", "titlePadding": 14},
    "axisX": {"grid": false, "domain": false, "ticks": false, "labelAngle": 0, "labelFontSize": 22.5, "labelColor": "#262626", "labelPadding": 14, "titleFontSize": 27, "titleFontWeight": "normal", "titleColor": "#262626", "titlePadding": 8},
    "legend": {
      "orient": "none", "legendX": 650, "legendY": 12,
      "symbolType": "M-1,-1H4.37V1H-1Z", "symbolSize": 361, "symbolStrokeColor": "#555555", "symbolStrokeWidth": 1.5, "symbolOpacity": 1,
      "labelFontSize": 23.5, "labelColor": "#262626", "labelOffset": 50, "rowPadding": 12,
      "padding": 8, "fillColor": "rgba(255,255,255,0.8)", "strokeColor": "#cccccc", "cornerRadius": 4
    }
  }
}
